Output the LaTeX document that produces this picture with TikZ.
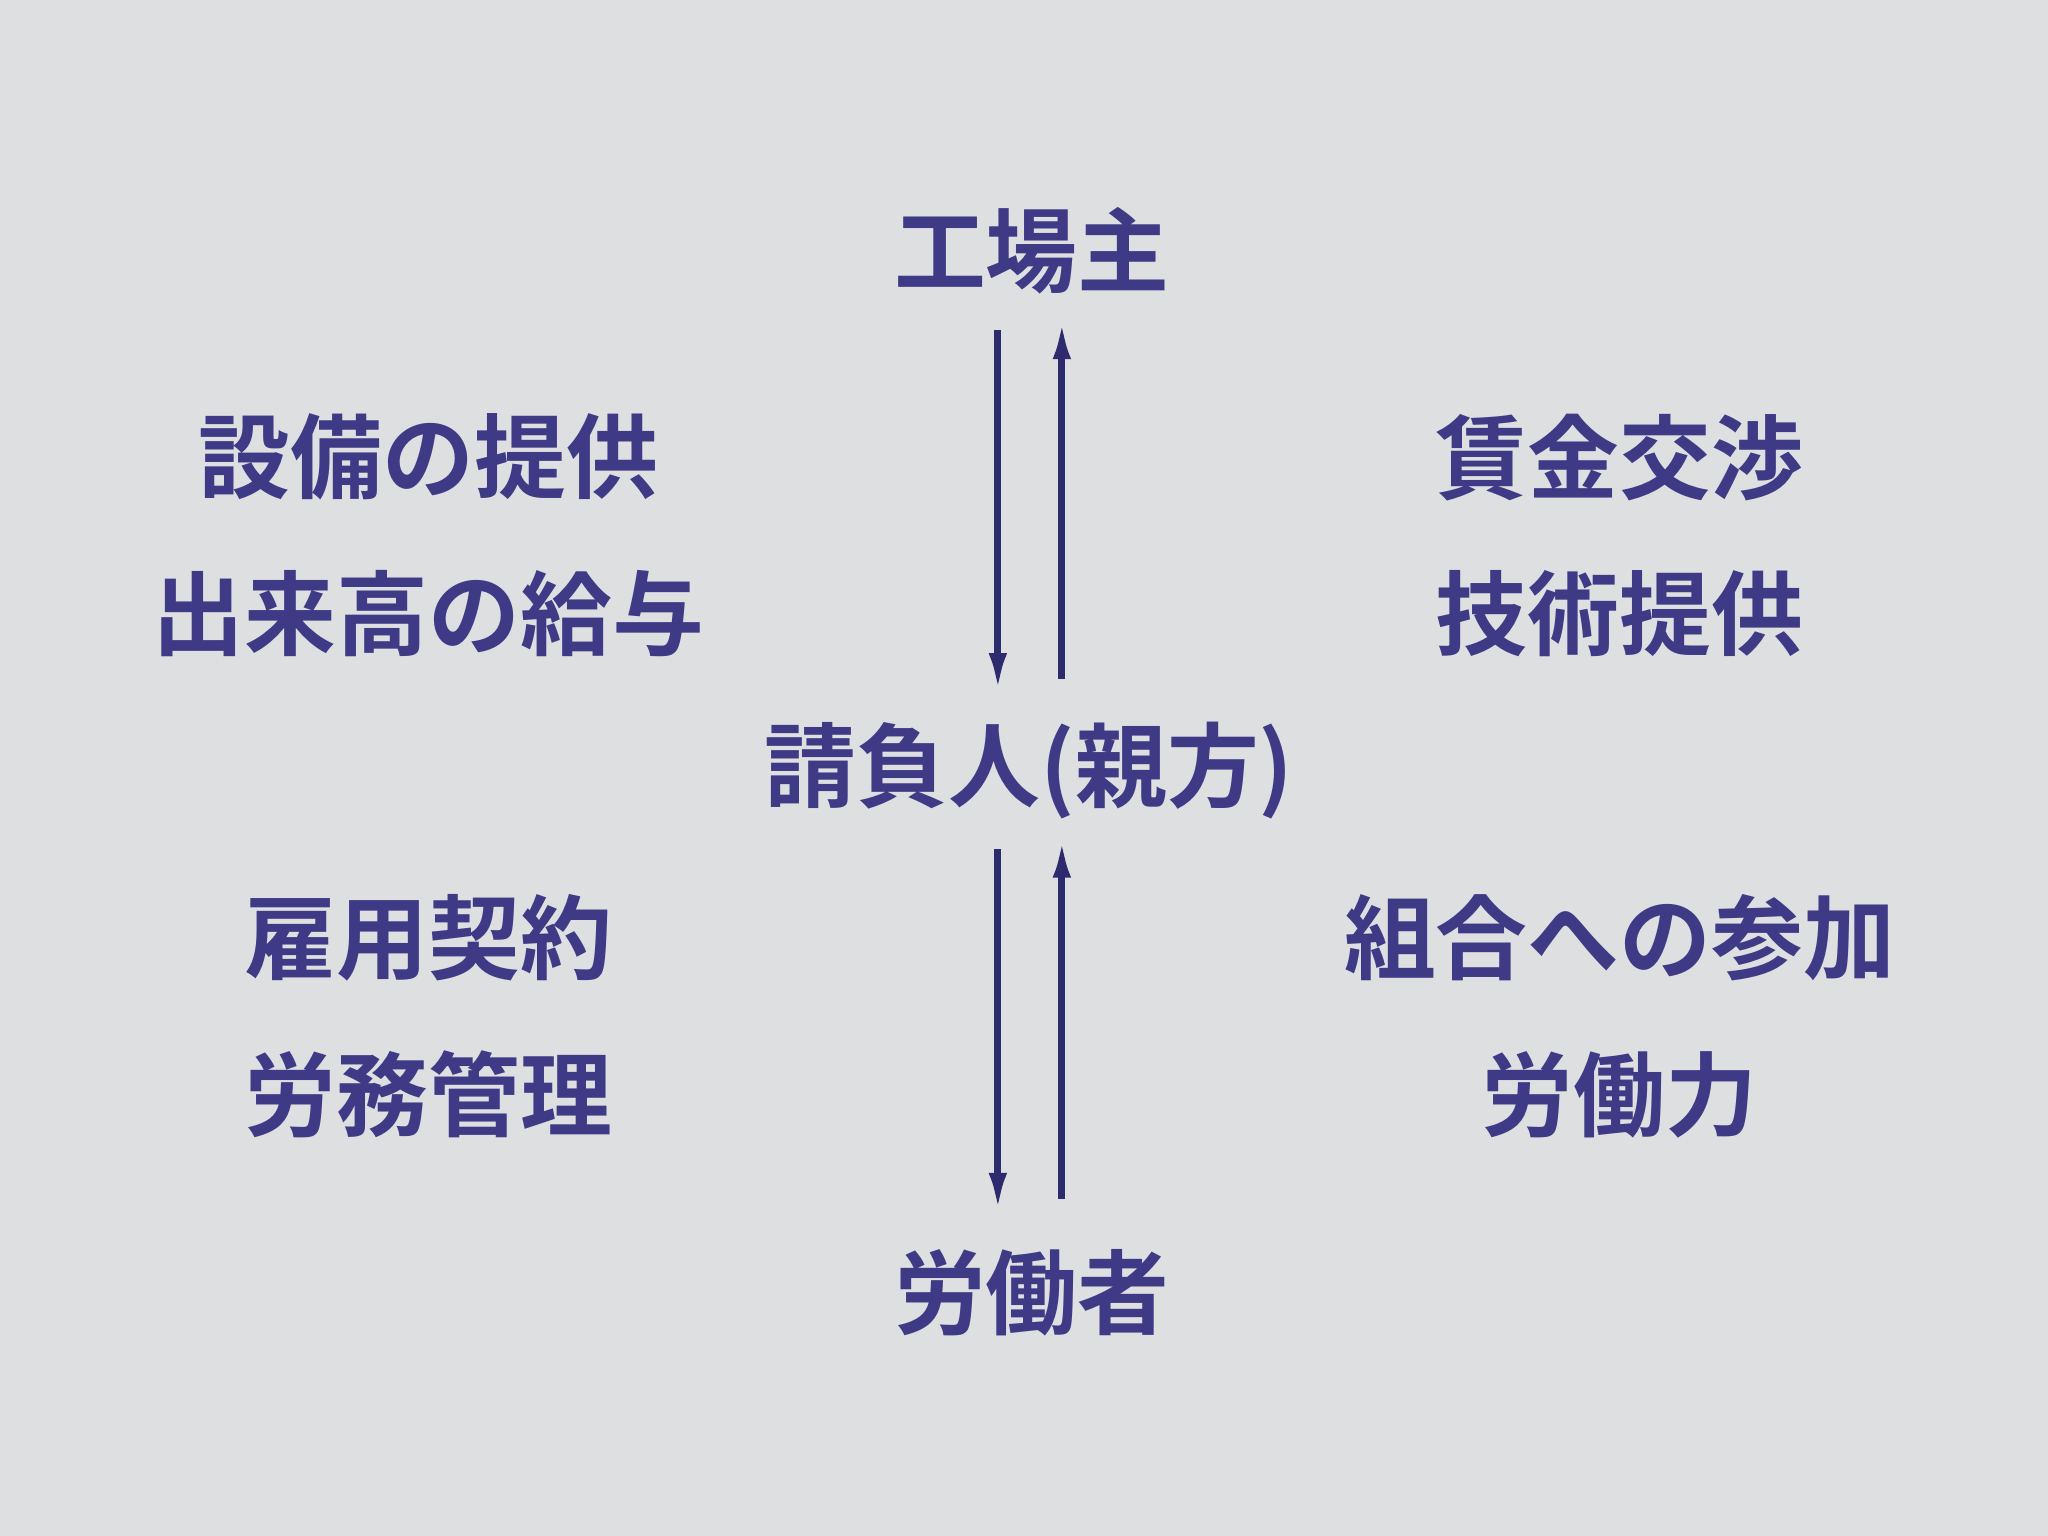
\documentclass[tikz,border=0pt]{standalone}
\usepackage{fontspec}
\setmainfont{Noto Sans CJK JP Bold}
\usetikzlibrary{arrows.meta}
\definecolor{bg}{HTML}{DEDFE1}
\definecolor{tx}{HTML}{3F3A85}
\definecolor{ar}{HTML}{2E2A6E}
\begin{document}
\begin{tikzpicture}[x=0.01cm,y=-0.01cm,
  lbl/.style={text=tx,font=\fontsize{20}{24}\selectfont,inner sep=0pt},
  arr/.style={draw=ar,line width=1.5pt,-{Latex[length=0.3cm,width=0.14cm]}}]
\fill[bg] (0,0) rectangle (1568,1176);
\node[lbl] (f) at (790,192) {工場主};
\node[lbl] (l1) at (328,350) {設備の提供};
\node[lbl] (l2) at (328,470) {出来高の給与};
\node[lbl] (r1) at (1240,350) {賃金交渉};
\node[lbl] (r2) at (1240,470) {技術提供};
\node[lbl] (c) at (788,590) {請負人(親方)};
\node[lbl] (l3) at (328,718) {雇用契約};
\node[lbl] (l4) at (328,838) {労務管理};
\node[lbl] (r3) at (1240,718) {組合への参加};
\node[lbl] (r4) at (1240,838) {労働力};
\node[lbl] (w) at (790,990) {労働者};
\coordinate (a1) at (764,253); \coordinate (a2) at (764,530);
\coordinate (b1) at (813,520); \coordinate (b2) at (813,245);
\coordinate (a3) at (764,650); \coordinate (a4) at (764,928);
\coordinate (b3) at (813,918); \coordinate (b4) at (813,642);
\draw[arr] (a1) -- (a2);
\draw[arr] (b1) -- (b2);
\draw[arr] (a3) -- (a4);
\draw[arr] (b3) -- (b4);
\end{tikzpicture}
\end{document}
